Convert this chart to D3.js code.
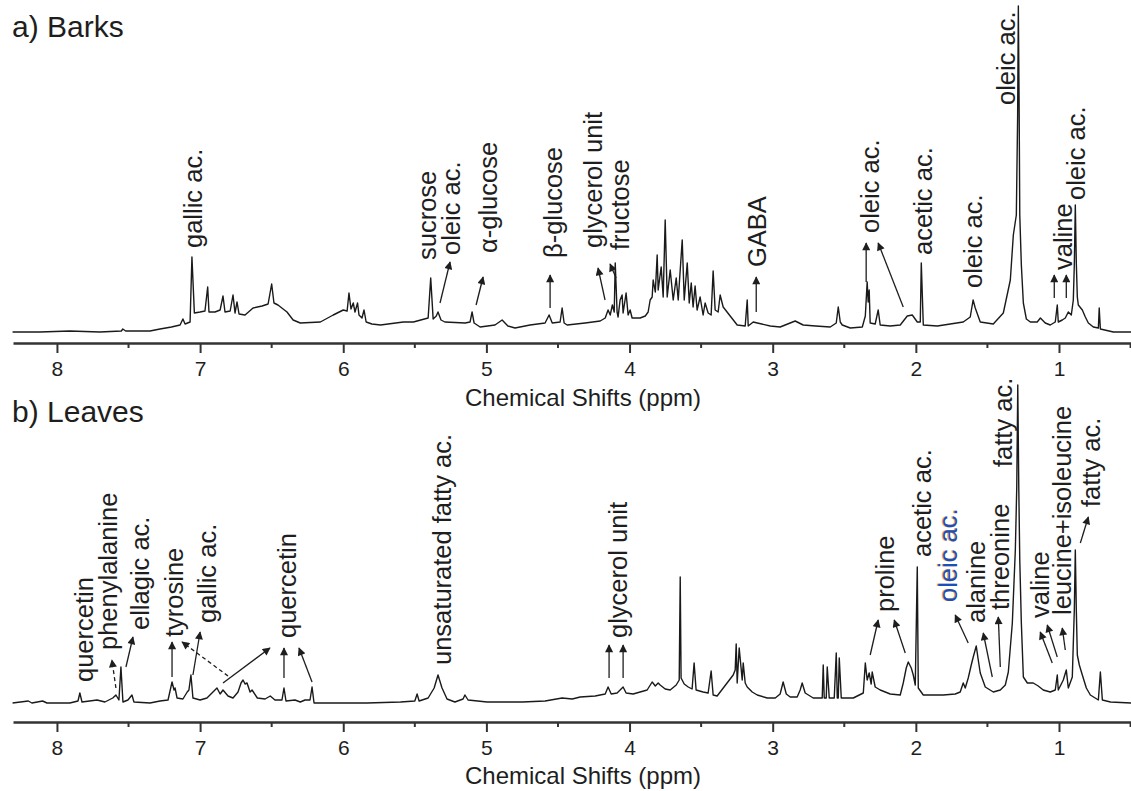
<!DOCTYPE html>
<html>
<head>
<meta charset="utf-8">
<script src="https://cdn.jsdelivr.net/npm/d3@7"></script>
<style>
  body { margin: 0; background: #fff; }
  svg text { font-family: "Liberation Sans", Arial, sans-serif; fill: #1e1e1e; }
</style>
</head>
<body>
<div id="chart"></div>
<script>
// Tick values (ppm)
var majorTicks = [8, 7, 6, 5, 4, 3, 2, 1];
var minorTicks = [7.5, 6.5, 5.5, 4.5, 3.5, 2.5, 1.5, 0.5];

// Barks spectrum, [ppm, intensity (a.u.)]
var barksSpectrum = [
  [8.31,3],[8.12,3],[7.91,4],[7.70,3],[7.55,4],[7.54,6],[7.52,4],[7.35,4],[7.28,6],[7.20,8],
  [7.14,10],[7.12,16],[7.105,11],[7.07,13],[7.057,78],[7.04,22],[7.00,23],[6.966,24],[6.947,48],[6.938,23],
  [6.896,23],[6.86,25],[6.84,39],[6.826,23],[6.79,24],[6.77,40],[6.756,22],[6.742,33],[6.728,21],[6.686,20],
  [6.63,27],[6.567,29],[6.525,31],[6.50,51],[6.484,32],[6.456,30],[6.393,23],[6.35,15],[6.30,12],[6.16,13],
  [6.07,20],[6.00,25],[5.973,24],[5.96,42],[5.946,26],[5.93,32],[5.918,23],[5.90,32],[5.89,20],[5.869,17],
  [5.855,25],[5.84,13],[5.80,11],[5.74,10],[5.58,13],[5.51,13],[5.407,17],[5.389,57],[5.372,16],[5.35,19],
  [5.338,23],[5.317,15],[5.29,13],[5.149,12],[5.114,13],[5.10,23],[5.086,12],[5.044,8],[4.94,10],[4.89,15],
  [4.85,9],[4.80,7],[4.695,10],[4.59,12],[4.562,20],[4.54,12],[4.485,13],[4.471,27],[4.457,12],[4.436,10],
  [4.31,12],[4.205,14],[4.17,17],[4.15,25],[4.135,20],[4.12,30],[4.107,23],[4.10,72],[4.087,23],[4.08,18],
  [4.066,35],[4.052,40],[4.045,22],[4.024,42],[4.01,20],[3.996,25],[3.982,17],[3.926,17],[3.89,19],[3.87,23],
  [3.856,35],[3.842,38],[3.835,55],[3.82,43],[3.807,80],[3.80,45],[3.779,68],[3.765,38],[3.751,115],[3.737,38],
  [3.716,65],[3.695,35],[3.674,57],[3.66,35],[3.632,95],[3.618,35],[3.597,72],[3.583,32],[3.569,52],[3.556,28],
  [3.542,49],[3.528,25],[3.507,38],[3.486,20],[3.472,32],[3.451,22],[3.43,20],[3.416,64],[3.402,25],[3.381,23],
  [3.367,40],[3.346,28],[3.248,10],[3.192,9],[3.178,35],[3.171,9],[3.136,13],[3.108,12],[3.017,9],[2.948,8],
  [2.843,14],[2.787,10],[2.70,9],[2.598,8],[2.556,12],[2.542,28],[2.528,13],[2.514,10],[2.458,7],[2.374,8],
  [2.353,19],[2.34,53],[2.333,33],[2.326,45],[2.319,12],[2.284,11],[2.263,25],[2.249,10],[2.179,9],[2.109,10],
  [2.06,19],[2.025,20],[1.99,13],[1.969,13],[1.962,72],[1.948,10],[1.85,9],[1.669,13],[1.62,18],[1.60,35],
  [1.585,27],[1.55,13],[1.459,11],[1.389,22],[1.34,55],[1.319,100],[1.298,120],[1.289,218],[1.284,329],[1.278,218],
  [1.274,120],[1.263,70],[1.249,32],[1.228,16],[1.20,13],[1.152,13],[1.13,17],[1.096,12],[1.061,10],[1.026,13],
  [1.012,30],[1.005,13],[0.977,15],[0.956,17],[0.935,23],[0.914,20],[0.90,35],[0.893,70],[0.886,130],[0.879,72],
  [0.872,38],[0.865,30],[0.837,25],[0.816,18],[0.795,12],[0.76,8],[0.725,7],[0.719,27],[0.711,6],[0.62,3],[0.495,3]
];

// Leaves spectrum, [ppm, intensity (a.u.)]
var leavesSpectrum = [
  [8.31,11],[8.20,13],[8.175,11],[8.10,13],[8.07,11],[7.91,11],[7.853,13],[7.84,21],[7.825,12],[7.72,14],
  [7.665,12],[7.61,16],[7.588,19],[7.567,14],[7.553,47],[7.539,12],[7.504,14],[7.476,19],[7.462,12],[7.35,11],
  [7.28,13],[7.224,14],[7.196,32],[7.182,24],[7.175,26],[7.161,16],[7.12,15],[7.09,22],[7.078,24],[7.064,39],
  [7.05,16],[7.00,14],[6.952,16],[6.917,21],[6.882,26],[6.86,20],[6.84,24],[6.805,18],[6.77,16],[6.735,22],
  [6.714,31],[6.70,34],[6.686,30],[6.672,31],[6.651,22],[6.637,24],[6.60,16],[6.546,15],[6.51,18],[6.477,14],
  [6.428,14],[6.414,26],[6.40,13],[6.337,14],[6.30,12],[6.267,14],[6.232,14],[6.218,27],[6.204,11],[6.02,11],
  [5.834,11],[5.60,12],[5.50,13],[5.484,20],[5.47,13],[5.407,16],[5.365,26],[5.338,39],[5.31,26],[5.275,15],
  [5.22,12],[5.163,15],[5.15,19],[5.128,14],[4.995,12],[4.75,12],[4.59,13],[4.471,16],[4.40,15],[4.345,17],
  [4.24,18],[4.17,20],[4.15,27],[4.128,20],[4.087,21],[4.045,27],[4.024,21],[3.975,20],[3.926,22],[3.877,24],
  [3.842,32],[3.82,28],[3.80,31],[3.786,29],[3.751,25],[3.716,24],[3.674,29],[3.653,34],[3.646,137],[3.64,36],
  [3.618,30],[3.59,27],[3.563,25],[3.549,51],[3.535,24],[3.486,22],[3.451,21],[3.43,43],[3.416,19],[3.388,18],
  [3.276,39],[3.262,44],[3.255,70],[3.248,31],[3.234,66],[3.213,34],[3.206,51],[3.192,31],[3.178,27],[3.143,22],
  [3.108,19],[3.038,16],[2.982,16],[2.948,20],[2.927,32],[2.905,20],[2.878,17],[2.829,17],[2.808,24],[2.794,31],
  [2.773,21],[2.717,16],[2.654,16],[2.647,49],[2.64,16],[2.626,16],[2.619,47],[2.605,16],[2.57,16],[2.556,61],
  [2.549,16],[2.542,16],[2.535,56],[2.521,16],[2.437,16],[2.367,21],[2.353,51],[2.34,34],[2.326,41],[2.312,30],
  [2.305,42],[2.284,27],[2.249,24],[2.179,20],[2.109,19],[2.088,31],[2.067,46],[2.053,52],[2.032,46],[2.018,39],
  [2.004,29],[1.99,147],[1.983,26],[1.948,19],[1.809,19],[1.725,20],[1.69,22],[1.669,31],[1.655,26],[1.634,36],
  [1.613,49],[1.599,57],[1.578,68],[1.564,54],[1.55,41],[1.515,27],[1.459,22],[1.41,24],[1.375,29],[1.354,42],
  [1.326,91],[1.305,164],[1.295,227],[1.288,329],[1.281,227],[1.274,154],[1.263,91],[1.249,37],[1.221,31],[1.18,31],
  [1.145,28],[1.11,24],[1.061,22],[1.026,24],[1.012,39],[1.005,24],[0.97,34],[0.949,44],[0.935,26],[0.907,37],
  [0.893,104],[0.886,164],[0.879,104],[0.872,59],[0.858,49],[0.837,39],[0.809,26],[0.781,19],[0.725,14],[0.711,42],
  [0.697,14],[0.64,12],[0.495,11]
];

// Peak labels: [text, ppm, intensity at label foot]
var barksLabels = [
  ["gallic ac.", 7.05, 87], ["sucrose", 5.414, 75], ["oleic ac.", 5.247, 80], ["\u03b1-glucose", 4.988, 82],
  ["\u03b2-glucose", 4.534, 77], ["glycerol unit", 4.254, 87], ["fructose", 4.066, 85], ["GABA", 3.108, 68],
  ["oleic ac.", 2.319, 102], ["acetic ac.", 1.948, 80], ["oleic ac.", 1.599, 47], ["oleic ac.", 1.368, 230],
  ["valine", 0.97, 65], ["oleic ac.", 0.879, 135]
];
var leavesLabels = [
  ["quercetin", 7.811, 32], ["phenylalanine", 7.644, 64], ["ellagic ac.", 7.42, 84], ["tyrosine", 7.182, 77],
  ["gallic ac.", 6.952, 91], ["quercetin", 6.393, 76], ["unsaturated fatty ac.", 5.31, 49], ["glycerol unit", 4.08, 76],
  ["proline", 2.214, 102], ["acetic ac.", 1.955, 157], ["oleic ac.", 1.774, 112], ["alanine", 1.578, 91],
  ["threonine", 1.41, 104], ["fatty ac.", 1.389, 247], ["valine", 1.131, 96], ["leucine+isoleucine", 0.977, 99],
  ["fatty ac.", 0.774, 207]
];

// Arrows: [ppm from, intensity from, ppm to, intensity to, dashed]
var barksArrows = [
  [5.324, 32, 5.254, 73, 0], [5.072, 30, 5.023, 58, 0], [4.555, 27, 4.555, 60, 0], [4.171, 35, 4.22, 67, 0],
  [4.094, 57, 4.136, 71, 0], [3.115, 23, 3.115, 58, 0], [2.347, 53, 2.347, 92, 0], [2.088, 28, 2.263, 92, 0],
  [1.033, 37, 1.033, 60, 0], [0.949, 37, 0.949, 60, 0]
];
var leavesArrows = [
  [7.588, 26, 7.616, 54, 1], [7.518, 47, 7.469, 77, 0], [7.196, 37, 7.196, 72, 0], [7.05, 39, 7.0, 82, 0],
  [6.805, 38, 7.126, 72, 1], [6.84, 31, 6.512, 66, 0], [6.414, 36, 6.414, 66, 0], [6.218, 32, 6.309, 66, 0],
  [4.143, 36, 4.143, 69, 0], [4.045, 36, 4.045, 69, 0], [2.319, 59, 2.263, 94, 0], [2.074, 61, 2.151, 94, 0],
  [1.634, 71, 1.725, 99, 0], [1.466, 37, 1.529, 81, 0], [1.41, 47, 1.424, 97, 0], [1.047, 51, 1.131, 82, 0],
  [1.012, 57, 1.082, 89, 0], [0.956, 64, 0.977, 86, 0], [0.851, 171, 0.795, 197, 0]
];

var width = 1131, height = 791;
var svg = d3.select("#chart").append("svg")
    .attr("width", width)
    .attr("height", height);

// arrow head
svg.append("defs").append("marker")
    .attr("id", "head")
    .attr("viewBox", "0 0 10 10")
    .attr("refX", 9).attr("refY", 5)
    .attr("markerUnits", "userSpaceOnUse")
    .attr("markerWidth", 10).attr("markerHeight", 8)
    .attr("orient", "auto")
  .append("path")
    .attr("d", "M0,0 L10,5 L0,10 z")
    .attr("fill", "#1e1e1e");

var x = d3.scaleLinear().domain([8.307, 0.497]).range([13, 1131]);

function drawPanel(spectrum, labels, arrows, axisY, title, titleY, axisTitleY, blueLabel) {
    var y = d3.scaleLinear().domain([0, 330]).range([axisY - 8, axisY - 338]);
    var g = svg.append("g");

    // spectrum trace
    var line = d3.line().x(d => x(d[0])).y(d => y(d[1]));
    g.append("path")
        .datum(spectrum)
        .attr("d", line)
        .attr("fill", "none")
        .attr("stroke", "#1a1a1a")
        .attr("stroke-width", 1.4)
        .attr("stroke-linejoin", "round");

    // axis with major ticks
    var axis = g.append("g")
        .attr("transform", `translate(0, ${axisY})`)
        .call(d3.axisBottom(x).tickValues(majorTicks).tickSize(10).tickSizeOuter(0).tickPadding(8).tickFormat(d3.format("d")));
    axis.select(".domain").attr("stroke", "#333").attr("stroke-width", 2.5);
    axis.selectAll(".tick line").attr("stroke", "#333").attr("stroke-width", 2);
    axis.selectAll(".tick text")
        .attr("fill", "#1e1e1e")
        .style("font-size", "21px")
        .style("font-family", "'Liberation Sans', Arial, sans-serif");

    // minor ticks
    g.selectAll(".minor")
        .data(minorTicks)
        .enter().append("line")
        .attr("x1", d => x(d)).attr("x2", d => x(d))
        .attr("y1", axisY).attr("y2", axisY + 5)
        .attr("stroke", "#333")
        .attr("stroke-width", 2);

    // axis title
    g.append("text")
        .attr("x", 583)
        .attr("y", axisTitleY)
        .attr("text-anchor", "middle")
        .style("font-size", "24px")
        .text("Chemical Shifts (ppm)");

    // panel title
    g.append("text")
        .attr("x", 12)
        .attr("y", titleY)
        .style("font-size", "30px")
        .text(title);

    // arrows
    g.selectAll(".arrow")
        .data(arrows)
        .enter().append("line")
        .attr("x1", d => x(d[0])).attr("y1", d => y(d[1]))
        .attr("x2", d => x(d[2])).attr("y2", d => y(d[3]))
        .attr("stroke", "#1e1e1e")
        .attr("stroke-width", 1.3)
        .attr("stroke-dasharray", d => d[4] ? "4,3" : null)
        .attr("marker-end", "url(#head)");

    // rotated peak labels
    labels.forEach(function (d, i) {
        var t = `translate(${x(d[1])}, ${y(d[2])}) rotate(-90)`;
        if (blueLabel === i) {
            // colour fringe of the highlighted label
            g.append("text")
                .attr("transform", `translate(${x(d[1]) - 1.2}, ${y(d[2])}) rotate(-90)`)
                .attr("dy", "0.35em")
                .style("font-size", "25.5px")
                .style("fill", "#f0a030")
                .text(d[0]);
        }
        g.append("text")
            .attr("transform", t)
            .attr("dy", "0.35em")
            .style("font-size", "25.5px")
            .style("fill", blueLabel === i ? "#1d4fb8" : null)
            .text(d[0]);
    });
}

drawPanel(barksSpectrum, barksLabels, barksArrows, 343, "a) Barks", 37, 406, -1);
drawPanel(leavesSpectrum, leavesLabels, leavesArrows, 722, "b) Leaves", 422, 784, 10);
</script>
</body>
</html>
